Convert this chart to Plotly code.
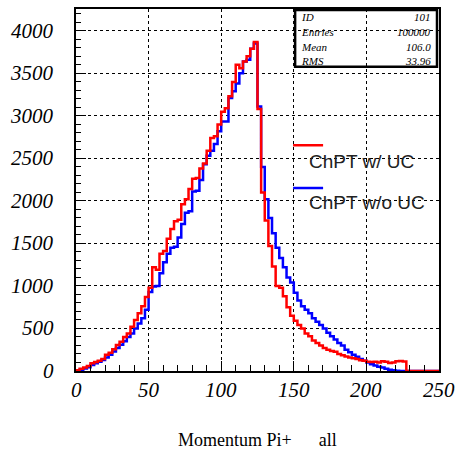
import plotly.graph_objects as go

# ---- data (100 bins, 0..250, width 2.5) ----
bin_edges = [2.5 * i for i in range(101)]

# ChPT w/ UC (red)
red_counts = [
    10, 25, 40, 58, 90, 105, 120, 140, 190, 215,
    255, 305, 345, 400, 440, 520, 600, 680, 760, 870,
    980, 1220, 1190, 1380, 1410, 1555, 1670, 1760, 1780, 1960,
    2020, 2140, 2260, 2270, 2380, 2440, 2590, 2740, 2760, 2900,
    3050, 3090, 3230, 3400, 3600, 3560, 3640, 3700, 3790, 3870,
    3080, 2100, 1770, 1470, 1230, 1000, 980, 880, 750, 650,
    590, 540, 500, 440, 410, 360, 330, 300, 270, 250,
    235, 225, 200, 185, 170, 160, 150, 140, 125, 120,
    108, 105, 110, 100, 115, 108, 95, 100, 115, 118,
    112, 0, 0, 0, 0, 0, 0, 0, 0, 0,
]

# ChPT w/o UC (blue)
blue_counts = [
    5, 15, 30, 45, 70, 90, 110, 130, 160, 190,
    230, 270, 310, 350, 400, 440, 500, 560, 620, 720,
    930, 995, 1000, 1150, 1280, 1380, 1450, 1460, 1570, 1730,
    1860, 1880, 2110, 2120, 2245, 2430, 2530, 2590, 2670, 2820,
    2935, 2935, 3210, 3290, 3380, 3500, 3640, 3660, 3790, 3850,
    3110, 2400, 2020, 1800, 1620, 1450, 1330, 1220, 1100, 1040,
    920, 830, 760, 720, 680, 620, 580, 540, 500, 450,
    410, 370, 330, 300, 250, 220, 190, 167, 140, 120,
    100, 80, 65, 50, 40, 25, 15, 8, 3, 0,
    0, 0, 0, 0, 0, 0, 0, 0, 0, 0,
]

series_names = ["ChPT w/ UC", "ChPT w/o UC"]
stats_labels = ["ID", "Entries", "Mean", "RMS"]
stats_values = ["101", "100000", "106.0", "33.96"]
x_tick_vals = [0, 50, 100, 150, 200, 250]
y_tick_vals = [0, 500, 1000, 1500, 2000, 2500, 3000, 3500, 4000]
x_title = "Momentum Pi+\u00a0\u00a0\u00a0\u00a0\u00a0\u00a0all"

# ---- figure ----
def step_xy(counts):
    xs = [bin_edges[0]] + bin_edges[:-1] + [bin_edges[-1]]
    ys = [0] + counts + [counts[-1]]
    return xs, ys

fig = go.Figure()
for counts, color in [(blue_counts, "#0000ff"), (red_counts, "#ff0000")]:
    xs, ys = step_xy(counts)
    fig.add_trace(go.Scatter(x=xs, y=ys, mode="lines", line=dict(color=color, width=2.5, shape="hv"),
                             showlegend=False, hoverinfo="skip"))

SERIF = "Liberation Serif"

fig.update_layout(
    width=457, height=454,
    margin=dict(l=76, r=18, t=7, b=83),
    paper_bgcolor="white", plot_bgcolor="white",
    font=dict(family=SERIF, color="black"),
    xaxis=dict(range=[0, 250], tickmode="array", tickvals=x_tick_vals, showticklabels=False,
               showgrid=True, gridcolor="black", griddash="dot",
               gridwidth=1, zeroline=False, showline=True, linecolor="black", linewidth=1.5, mirror=True,
               ticks="inside", ticklen=10, tickcolor="black",
               minor=dict(dtick=10, tick0=0, ticks="inside", ticklen=6, tickcolor="black", showgrid=False)),
    yaxis=dict(range=[0, 4257], tickmode="array", tickvals=y_tick_vals, showticklabels=False,
               showgrid=True, gridcolor="black", griddash="dot",
               gridwidth=1, zeroline=False, showline=True, linecolor="black", linewidth=1.5, mirror=True,
               ticks="inside", ticklen=10, tickcolor="black",
               minor=dict(dtick=100, tick0=0, ticks="inside", ticklen=5, tickcolor="black", showgrid=False)),
)

W = 363.3
H = 364.0
def px(xp):
    return (xp - 75.7) / W
def py(yp):
    return (371 - yp) / H

# tick labels (italic serif) placed at the axis tick values
for v in x_tick_vals:
    fig.add_annotation(text="<i>%d</i>" % v, xref="x", yref="paper", x=v, y=py(390), xanchor="center",
                       yanchor="middle", showarrow=False, font=dict(family=SERIF, size=21, color="black"))
for v in y_tick_vals:
    fig.add_annotation(text="<i>%d</i>" % v, xref="paper", yref="y", x=px(56), y=v, xanchor="right",
                       yanchor="middle", showarrow=False, font=dict(family=SERIF, size=21, color="black"))

# x title
fig.add_annotation(text=x_title, xref="paper", yref="paper", x=0.5, y=py(440), yanchor="middle",
                   showarrow=False, font=dict(family=SERIF, size=18, color="black"))

# ---- stats box ----
fig.add_shape(type="rect", xref="paper", yref="paper", x0=px(295), x1=px(437), y0=py(65), y1=py(8),
              line=dict(color="black", width=2.5), fillcolor="rgba(0,0,0,0)")
row_y = [15, 30, 45, 59]
for lab, val, yy in zip(stats_labels, stats_values, row_y):
    fig.add_annotation(text="<i>%s</i>" % lab, xref="paper", yref="paper", x=px(299), y=py(yy), xanchor="left",
                       yanchor="middle", showarrow=False,
                       font=dict(family=SERIF, size=11, color="black"))
    fig.add_annotation(text="<i>%s</i>" % val, xref="paper", yref="paper", x=px(433), y=py(yy), xanchor="right",
                       yanchor="middle", showarrow=False,
                       font=dict(family=SERIF, size=11, color="black"))

# ---- legend ----
for name, color, ly, ty in [(series_names[0], "#ff0000", 144, 160), (series_names[1], "#0000ff", 187, 202)]:
    fig.add_shape(type="line", xref="paper", yref="paper", x0=px(293), x1=px(323), y0=py(ly), y1=py(ly),
                  line=dict(color=color, width=2.5))
    fig.add_annotation(text=name, xref="paper", yref="paper", x=px(307), y=py(ty), xanchor="left",
                       yanchor="middle", showarrow=False,
                       font=dict(family="Liberation Sans", size=19, color="#222222"))

fig.write_html("out.html")
